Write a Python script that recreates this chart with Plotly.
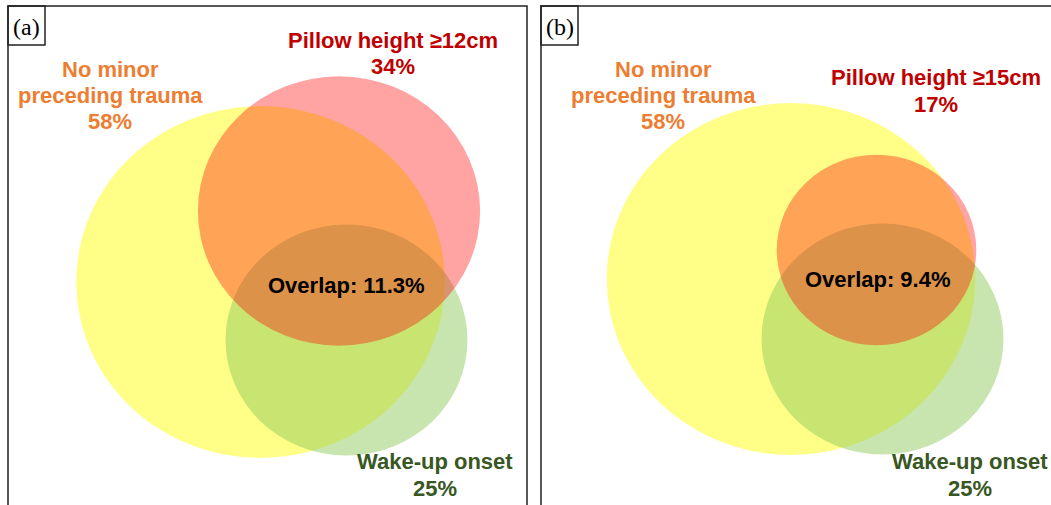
import plotly.graph_objects as go
import math

# ---- data ----
panels = ["(a)", "(b)"]
trauma_pct = [58, 58]
pillow_pct = [34, 17]
wake_pct = [25, 25]
overlap_pct = [11.3, 9.4]
pillow_labels = ["Pillow height ≥12cm", "Pillow height ≥15cm"]
trauma_lines = ["No minor", "preceding trauma"]
wake_label = "Wake-up onset"

# ---- layout (pixel positions) ----
W, H = 1051, 505
KX, KY = 24.2, 23.1  # radius scale (px per sqrt(%))
layout_pos = [
    dict(frame=(8, 527), lab=(8, 45, 6, 45),
         trauma_c=(260.5, 282), pillow_c=(339, 211), wake_c=(346.5, 340),
         trauma_t=(110, [69, 95, 121]), pillow_t=(393, [40, 66]), wake_t=(435, [461, 488]),
         over_t=(346, 285)),
    dict(frame=(541, 1070), lab=(541, 578, 6, 45),
         trauma_c=(791, 279), pillow_c=(876.5, 250), wake_c=(882.5, 339),
         trauma_t=(663, [69, 95, 121]), pillow_t=(935.5, [77, 104]), wake_t=(969.5, [461, 488]),
         over_t=(878, 279)),
]

YELLOW = "rgba(255,255,0,0.47)"
GREEN = "rgba(140,200,90,0.48)"
RED = "rgba(255,0,0,0.36)"
C_ORANGE = "#ED7D31"
C_RED = "#C00000"
C_GREEN = "#385723"
FONT = "Liberation Sans, Arial, Helvetica, sans-serif"
FS = 22

fig = go.Figure()
fig.add_trace(go.Scatter(x=[0, W], y=[0, H], mode="markers", marker=dict(opacity=0),
                         hoverinfo="skip", showlegend=False))

shapes = []
annotations = []


def ellipse(c, pct, color):
    rx, ry = KX * math.sqrt(pct), KY * math.sqrt(pct)
    return dict(type="circle", xref="x", yref="y", x0=c[0] - rx, x1=c[0] + rx,
                y0=c[1] - ry, y1=c[1] + ry, fillcolor=color, line=dict(width=0), layer="below")


def label(x, y, text, color):
    annotations.append(dict(x=x, y=y, xref="x", yref="y", text=f"<b>{text}</b>", showarrow=False,
                            xanchor="center", yanchor="middle",
                            font=dict(family=FONT, size=FS, color=color)))


for i, p in enumerate(layout_pos):
    fx0, fx1 = p["frame"]
    shapes.append(dict(type="rect", xref="x", yref="y", x0=fx0, x1=fx1, y0=6, y1=H + 20,
                       line=dict(color="#222", width=1.5), fillcolor="rgba(0,0,0,0)"))
    lx0, lx1, ly0, ly1 = p["lab"]
    shapes.append(dict(type="rect", xref="x", yref="y", x0=lx0, x1=lx1, y0=ly0, y1=ly1,
                       line=dict(color="#222", width=1.5), fillcolor="rgba(0,0,0,0)"))
    annotations.append(dict(x=(lx0 + lx1) / 2, y=(ly0 + ly1) / 2 + 1, xref="x", yref="y", text=panels[i],
                            showarrow=False, font=dict(family="Liberation Serif, Times New Roman, serif",
                                                       size=24, color="black")))
    # circles: yellow, green, red
    shapes.append(ellipse(p["trauma_c"], trauma_pct[i], YELLOW))
    shapes.append(ellipse(p["wake_c"], wake_pct[i], GREEN))
    shapes.append(ellipse(p["pillow_c"], pillow_pct[i], RED))
    # labels
    tx, tys = p["trauma_t"]
    for txt, ty in zip(trauma_lines + [f"{trauma_pct[i]}%"], tys):
        label(tx, ty, txt, C_ORANGE)
    px, pys = p["pillow_t"]
    for txt, py in zip([pillow_labels[i], f"{pillow_pct[i]}%"], pys):
        label(px, py, txt, C_RED)
    wx, wys = p["wake_t"]
    for txt, wy in zip([wake_label, f"{wake_pct[i]}%"], wys):
        label(wx, wy, txt, C_GREEN)
    label(p["over_t"][0], p["over_t"][1], f"Overlap: {overlap_pct[i]}%", "black")

fig.update_layout(
    width=W, height=H, margin=dict(l=0, r=0, t=0, b=0),
    paper_bgcolor="white", plot_bgcolor="white",
    xaxis=dict(range=[0, W], visible=False, fixedrange=True),
    yaxis=dict(range=[H, 0], visible=False, fixedrange=True),
    shapes=shapes, annotations=annotations, showlegend=False,
)

fig.write_html(
    "out.html",
    config={"displayModeBar": False},
    post_script="document.body.style.margin='0px';document.body.style.overflow='hidden';",
)
